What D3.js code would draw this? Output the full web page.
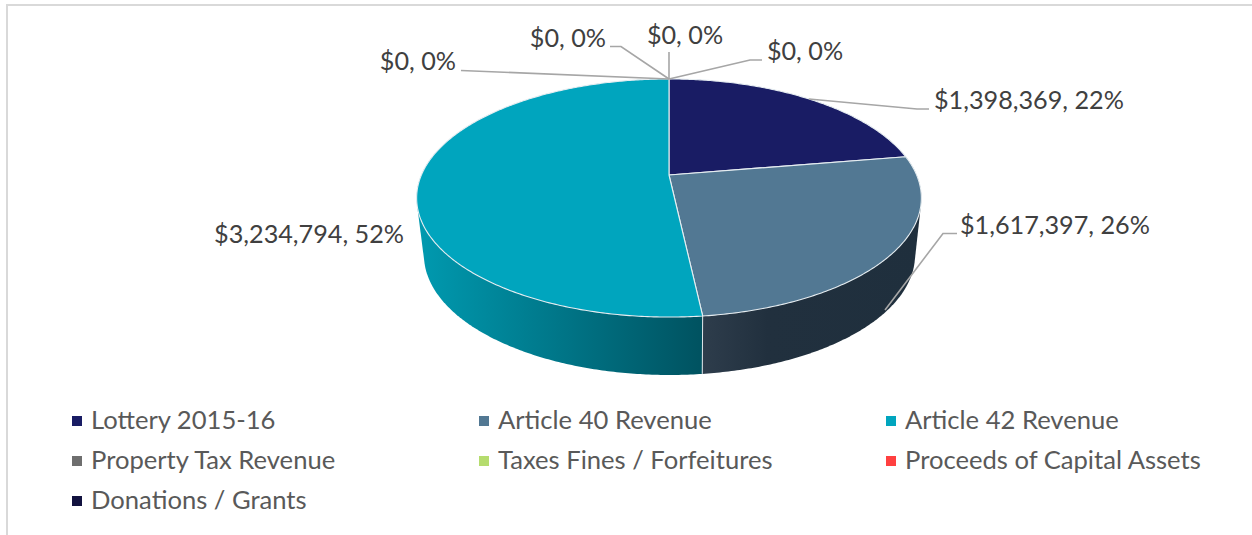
<!DOCTYPE html>
<html><head><meta charset="utf-8">
<script src="https://cdn.jsdelivr.net/npm/d3@7/dist/d3.min.js"></script>
<style>html,body{margin:0;background:#fff}svg{display:block}text{font-family:Lato,"Open Sans",sans-serif}</style>
</head><body><svg id="c" width="1252" height="535"></svg>
<script>
const categories=["Lottery 2015-16","Article 40 Revenue","Article 42 Revenue","Property Tax Revenue","Taxes Fines / Forfeitures","Proceeds of Capital Assets","Donations / Grants"];
const values=[1398369,1617397,3234794,0,0,0,0];
const percents=[22,26,52,0,0,0,0];
const colors=["#191c64","#527893","#00a5be","#6e6e6e","#b5dc6e","#ff4040","#12123f"];

const topFace={cx:669,y0:175,a:247.6,b:114.6,k:0.1933};
const bottomFace={cx:669.5,y0:231.8,a:240.9,b:115.5,k:0.1933};
const project=(g,t)=>{const u=Math.sin(t),v=-Math.cos(t),w=1-g.k*v;return [g.cx+g.a*u/w,g.y0+g.b*v/w];};
const arcPts=(g,t0,t1)=>{const n=Math.max(2,Math.ceil(Math.abs(t1-t0)/0.01));return d3.range(n+1).map(i=>project(g,t0+(t1-t0)*i/n));};
const line=d3.line();

const svg=d3.select("#c");
const defs=svg.append("defs");
const pie=d3.pie().sort(null).value(d=>d);
const arcs=pie(values);

// frame
svg.append("path").attr("d","M7,535V5H1252").attr("fill","none").attr("stroke","#d9d9d9").attr("stroke-width",2);

// walls
const wallGrad={1:[[0,"#2e3d4c"],[0.3,"#21303e"],[1,"#1f2f3d"]],2:[[0,"#009ab0"],[1,"#005260"]]};
Object.keys(wallGrad).forEach(i=>{
  const g=defs.append("linearGradient").attr("id","w"+i);
  wallGrad[i].forEach(s=>g.append("stop").attr("offset",s[0]).attr("stop-color",s[1]));
});
const tMax=Math.PI*1.5+0.2;
[2,1].forEach(i=>{
  const a=arcs[i];
  const t1=Math.min(a.endAngle,tMax);
  const hull=d3.polygonHull(arcPts(topFace,a.startAngle,t1).concat(arcPts(bottomFace,t1,a.startAngle)));
  svg.append("path").attr("d",line(hull)+"Z").attr("fill",`url(#w${i})`);
});
// front seam on wall
const seam=arcs[1].endAngle;
svg.append("path").attr("d",line([project(topFace,seam),project(bottomFace,seam)])).attr("stroke","#dfe6ea").attr("stroke-width",1).attr("fill","none");

// top face
arcs.filter(a=>a.endAngle>a.startAngle).forEach(a=>{
  const pts=[[topFace.cx,topFace.y0]].concat(arcPts(topFace,a.startAngle,a.endAngle));
  svg.append("path").attr("d",line(pts)+"Z").attr("fill",colors[a.index]).attr("stroke","#e6edf1").attr("stroke-width",1.1).attr("stroke-linejoin","round");
});

// leaders and labels
const labelLayout=[
 {x:934,y:109,anchor:"start",leader:[[809,99],[917,109],[929,109]]},
 {x:960,y:234,anchor:"start",leader:[[885,310],[943,233.5],[957,233.5]]},
 {x:404,y:243,anchor:"end",leader:null},
 {x:456,y:70,anchor:"end",leader:[[669,79],[461,70.5]]},
 {x:606,y:47,anchor:"end",leader:[[669,79],[621,46.5],[610,46.5]]},
 {x:685,y:44,anchor:"middle",leader:[[669,79],[669,52]]},
 {x:805,y:60,anchor:"middle",leader:[[669,79],[750,60],[762,60]]}
];
const fmt=d3.format("$,");
labelLayout.forEach(l=>{
  if(l.leader) svg.append("path").attr("d",line(l.leader)).attr("fill","none").attr("stroke","#a6a6a6").attr("stroke-width",1.6);
});
labelLayout.forEach((l,i)=>{
  svg.append("text").attr("x",l.x).attr("y",l.y).attr("text-anchor",l.anchor).attr("font-size",25.2).attr("fill","#404040").text(`${fmt(values[i])}, ${percents[i]}%`);
});

// legend
const legX=[72,479,886],legY=[421,461,501];
categories.forEach((c,i)=>{
  const col=i%3,row=Math.floor(i/3);
  svg.append("rect").attr("x",legX[col]).attr("y",legY[row]-5).attr("width",10).attr("height",10).attr("fill",colors[i]);
  svg.append("text").attr("x",legX[col]+19).attr("y",legY[row]+8).attr("font-size",25.6).attr("fill","#595959").text(c);
});
</script></body></html>
